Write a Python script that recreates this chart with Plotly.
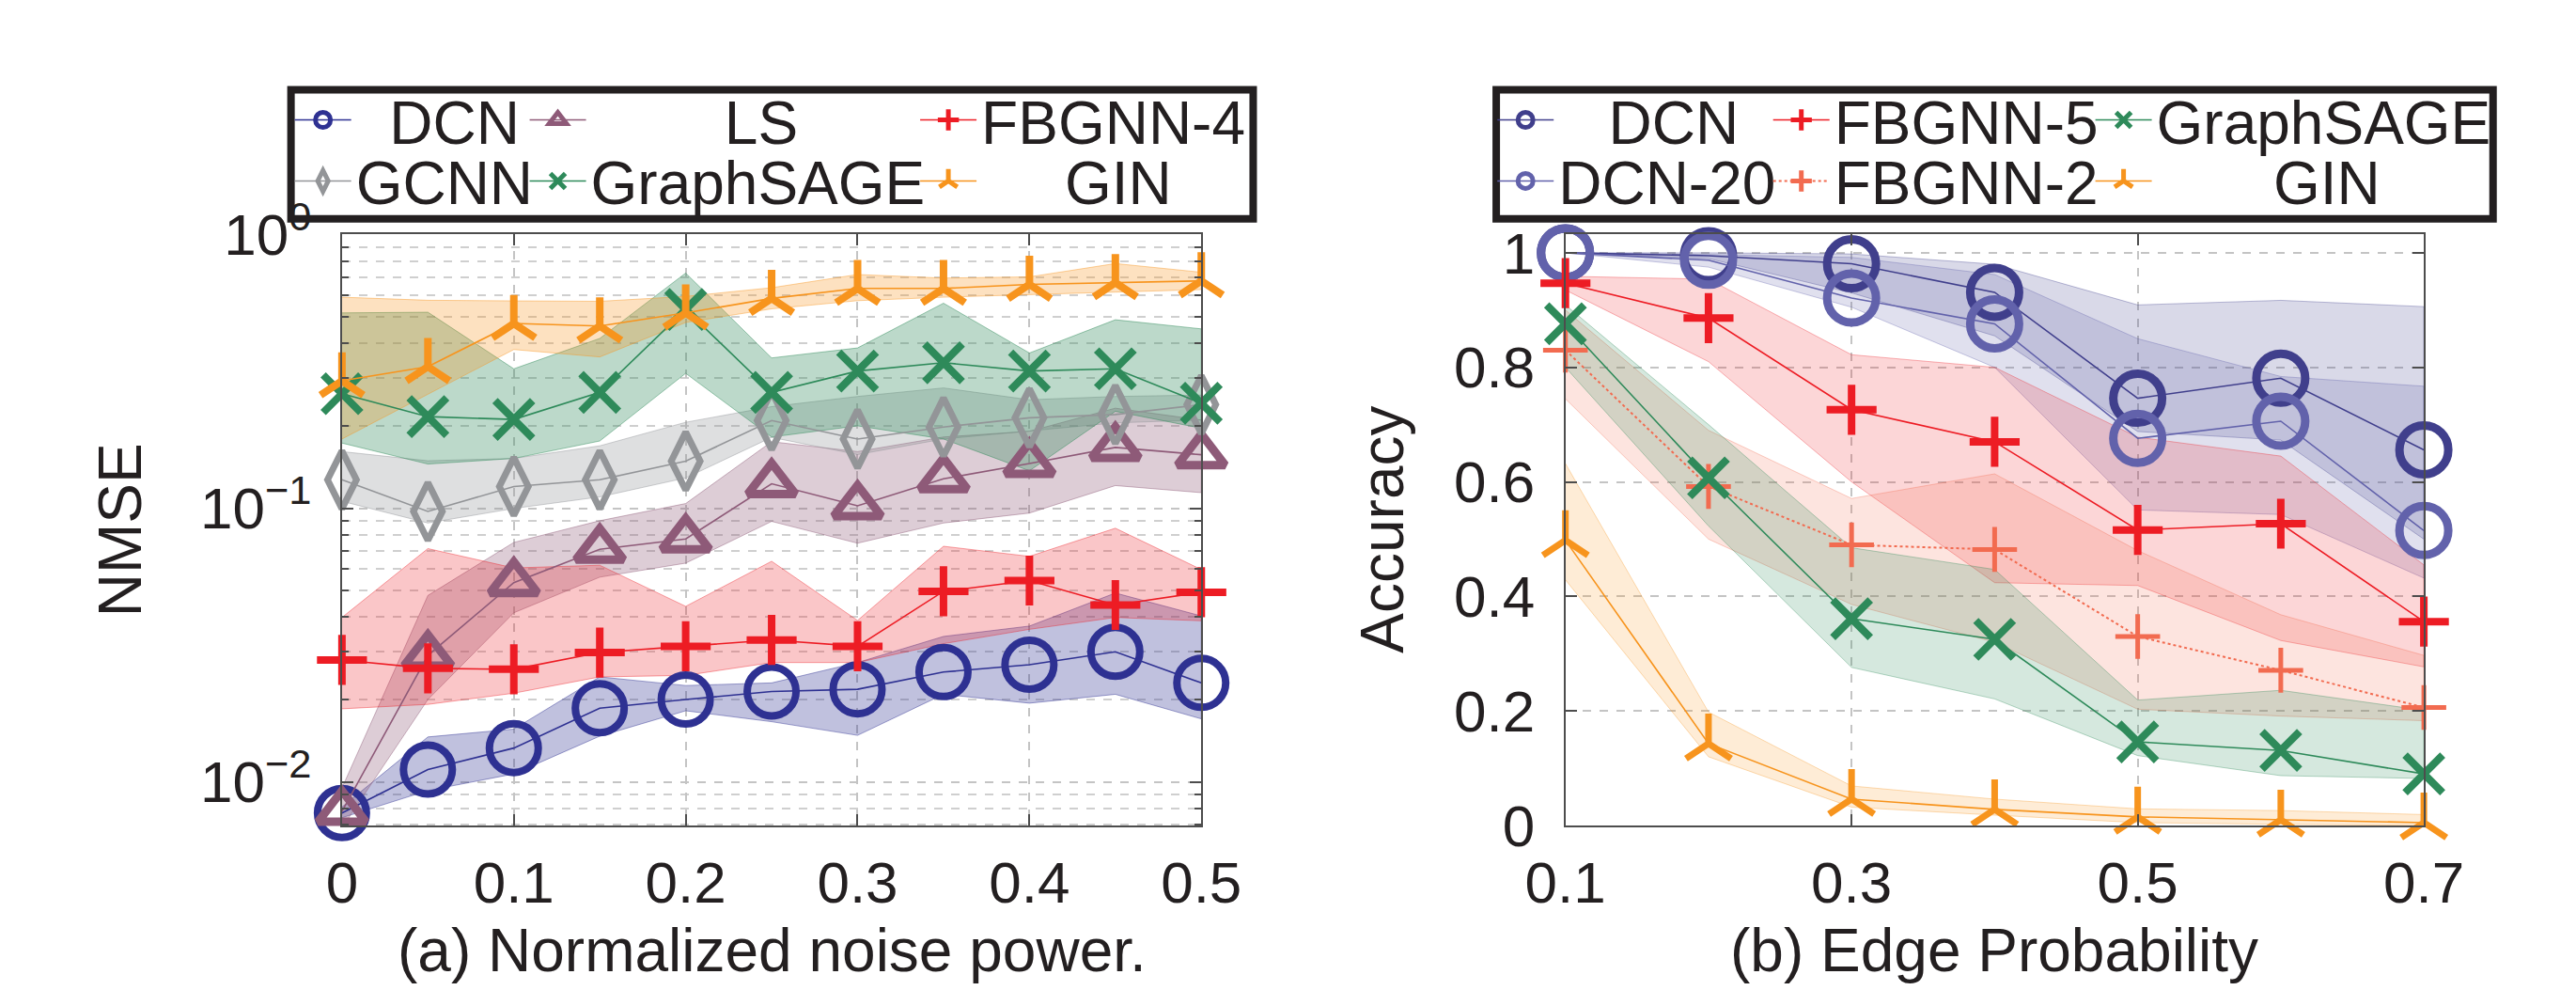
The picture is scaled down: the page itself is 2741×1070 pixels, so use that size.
import plotly.graph_objects as go

W, H = 2741, 1070

# ---------------- Data: panel (a) NMSE vs normalized noise power ----------------
noise_power = [0, 0.05, 0.1, 0.15, 0.2, 0.25, 0.3, 0.35, 0.4, 0.45, 0.5]

a_dcn = [0.0077, 0.0111, 0.0133, 0.0186, 0.0200, 0.0214, 0.0218, 0.0252, 0.0268, 0.0299, 0.0230]
a_dcn_hi = [0.0081, 0.0146, 0.0156, 0.0242, 0.0225, 0.0230, 0.0273, 0.0340, 0.0371, 0.0490, 0.0404]
a_dcn_lo = [0.0074, 0.0093, 0.0107, 0.0147, 0.0182, 0.0166, 0.0148, 0.0209, 0.0194, 0.0209, 0.0170]

a_ls = [0.0078, 0.029, 0.0535, 0.0708, 0.0772, 0.1228, 0.102, 0.128, 0.1457, 0.1667, 0.1568]
a_ls_hi = [0.0095, 0.048, 0.075, 0.090, 0.104, 0.175, 0.161, 0.182, 0.191, 0.232, 0.210]
a_ls_lo = [0.0068, 0.020, 0.0415, 0.056, 0.063, 0.0895, 0.0745, 0.0883, 0.096, 0.121, 0.114]

a_fb4 = [0.0279, 0.0260, 0.0258, 0.0297, 0.0313, 0.0330, 0.0313, 0.0497, 0.0544, 0.0443, 0.0493]
a_fb4_hi = [0.0399, 0.0712, 0.0605, 0.0619, 0.0438, 0.0640, 0.0389, 0.0726, 0.0667, 0.0845, 0.0597]
a_fb4_lo = [0.0185, 0.0192, 0.0211, 0.0242, 0.0245, 0.0273, 0.0273, 0.0320, 0.0361, 0.0399, 0.0388]

a_gcnn = [0.127, 0.0973, 0.120, 0.127, 0.1486, 0.209, 0.179, 0.198, 0.214, 0.220, 0.239]
a_gcnn_hi = [0.161, 0.149, 0.152, 0.169, 0.206, 0.235, 0.256, 0.275, 0.249, 0.256, 0.259]
a_gcnn_lo = [0.106, 0.0883, 0.0998, 0.110, 0.129, 0.1815, 0.157, 0.179, 0.191, 0.205, 0.210]

a_sage = [0.262, 0.216, 0.211, 0.265, 0.532, 0.265, 0.317, 0.340, 0.317, 0.323, 0.242]
a_sage_hi = [0.517, 0.520, 0.323, 0.417, 0.723, 0.354, 0.385, 0.561, 0.369, 0.488, 0.452]
a_sage_lo = [0.173, 0.145, 0.152, 0.176, 0.311, 0.182, 0.200, 0.179, 0.137, 0.226, 0.196]

a_gin = [0.292, 0.329, 0.473, 0.463, 0.517, 0.584, 0.635, 0.635, 0.657, 0.667, 0.677]
a_gin_hi = [0.590, 0.575, 0.572, 0.570, 0.594, 0.639, 0.714, 0.693, 0.700, 0.783, 0.728]
a_gin_lo = [0.179, 0.261, 0.380, 0.357, 0.477, 0.535, 0.573, 0.590, 0.604, 0.616, 0.629]

a_yticks = [0.01, 0.1, 1]
a_yticktext = ["10<sup>\u22122</sup>", "10<sup>\u22121</sup>", "10<sup>0</sup>"]

# ---------------- Data: panel (b) Accuracy vs edge probability ----------------
edge_prob = [0.1, 0.2, 0.3, 0.4, 0.5, 0.6, 0.7]

b_dcn = [1.0, 0.995, 0.981, 0.931, 0.746, 0.781, 0.656]
b_dcn_hi = [1.0, 1.0, 0.998, 0.980, 0.909, 0.917, 0.906]
b_dcn_lo = [1.0, 0.99, 0.93, 0.855, 0.688, 0.673, 0.50]

b_dcn20 = [1.0, 0.987, 0.921, 0.876, 0.676, 0.706, 0.515]
b_dcn20_hi = [1.0, 0.997, 0.992, 0.962, 0.850, 0.784, 0.767]
b_dcn20_lo = [1.0, 0.975, 0.905, 0.80, 0.551, 0.543, 0.432]

b_fb5 = [0.947, 0.886, 0.726, 0.670, 0.516, 0.527, 0.356]
b_fb5_hi = [0.959, 0.954, 0.822, 0.800, 0.678, 0.645, 0.455]
b_fb5_lo = [0.935, 0.81, 0.60, 0.424, 0.419, 0.323, 0.277]

b_fb2 = [0.830, 0.592, 0.490, 0.482, 0.330, 0.271, 0.206]
b_fb2_hi = [0.90, 0.69, 0.571, 0.614, 0.480, 0.368, 0.297]
b_fb2_lo = [0.745, 0.50, 0.386, 0.32, 0.203, 0.191, 0.183]

b_sage = [0.876, 0.607, 0.361, 0.325, 0.146, 0.131, 0.090]
b_sage_hi = [0.909, 0.70, 0.485, 0.447, 0.219, 0.236, 0.201]
b_sage_lo = [0.80, 0.523, 0.276, 0.221, 0.122, 0.087, 0.082]

b_gin = [0.498, 0.143, 0.046, 0.028, 0.015, 0.010, 0.005]
b_gin_hi = [0.632, 0.198, 0.069, 0.046, 0.029, 0.026, 0.019]
b_gin_lo = [0.429, 0.12, 0.032, 0.018, 0.005, 0.002, 0.0]

captions = ["(a) Normalized noise power.", "(b) Edge Probability"]
ylabels = ["NMSE", "Accuracy"]

# ---------------- Styles ----------------
FONT = "Liberation Sans, Arial, Helvetica, sans-serif"
TXT = "#231f20"


def rgba(hexc, a):
    h = hexc.lstrip("#")
    r, g, b = int(h[0:2], 16), int(h[2:4], 16), int(h[4:6], 16)
    return f"rgba({r},{g},{b},{a})"


# name, mean, hi, lo, color, symbol, size, marker line width, line dash, band alpha
series_a = [
    ("DCN", a_dcn, a_dcn_hi, a_dcn_lo, "#2e3192", "circle-open", 52, 8, "solid", 0.30),
    ("LS", a_ls, a_ls_hi, a_ls_lo, "#8e5a78", "triangle-up-open", 44, 9, "solid", 0.30),
    ("FBGNN-4", a_fb4, a_fb4_hi, a_fb4_lo, "#ed1c24", "cross-thin-open", 38, 8, "solid", 0.25),
    ("GCNN", a_gcnn, a_gcnn_hi, a_gcnn_lo, "#939598", "diamond-tall-open", 44, 7, "solid", 0.30),
    ("GraphSAGE", a_sage, a_sage_hi, a_sage_lo, "#2e8a5a", "x-thin-open", 40, 8, "solid", 0.32),
    ("GIN", a_gin, a_gin_hi, a_gin_lo, "#f7941d", "y-up-open", 38, 8, "solid", 0.28),
]
series_b = [
    ("DCN", b_dcn, b_dcn_hi, b_dcn_lo, "#403f8c", "circle-open", 52, 9, "solid", 0.20),
    ("DCN-20", b_dcn20, b_dcn20_hi, b_dcn20_lo, "#6262ab", "circle-open", 52, 9, "solid", 0.20),
    ("FBGNN-5", b_fb5, b_fb5_hi, b_fb5_lo, "#ed1c24", "cross-thin-open", 38, 8, "solid", 0.18),
    ("FBGNN-2", b_fb2, b_fb2_hi, b_fb2_lo, "#f26b50", "cross-thin-open", 34, 5, "dot", 0.18),
    ("GraphSAGE", b_sage, b_sage_hi, b_sage_lo, "#2e8a5a", "x-thin-open", 40, 8, "solid", 0.20),
    ("GIN", b_gin, b_gin_hi, b_gin_lo, "#f7941d", "y-up-open", 40, 7, "solid", 0.18),
]

# legend slot layout: (marker centre px, row, left padding in nbsp)
legend_a = {"DCN": (301, 0, 2), "LS": (559, 0, 8), "FBGNN-4": (988, 0, 0),
            "GCNN": (301, 1, 0), "GraphSAGE": (559, 1, 0), "GIN": (988, 1, 5)}
legend_b = {"DCN": (1622, 0, 3), "FBGNN-5": (1925, 0, 0), "GraphSAGE": (2279, 0, 0),
            "DCN-20": (1622, 1, 0), "FBGNN-2": (1925, 1, 0), "GIN": (2279, 1, 7)}
ROW_Y = [83, 153]
legend_boxes = [(267, 48, 1324, 196), (1591, 48, 2686, 196)]

fig = go.Figure()

legend_layouts = {}
legend_count = [0]


def add_panel(series, xs, xa, ya, slots):
    # bands first
    for name, m, hi, lo, col, sym, sz, mlw, dash, alpha in series:
        fig.add_trace(go.Scatter(
            x=list(xs) + list(xs)[::-1], y=list(hi) + list(lo)[::-1],
            fill="toself", fillcolor=rgba(col, alpha),
            line=dict(color=rgba(col, min(alpha + 0.15, 1)), width=1),
            mode="lines", showlegend=False, hoverinfo="skip",
            xaxis=xa, yaxis=ya))
    # lines + markers
    for name, m, hi, lo, col, sym, sz, mlw, dash, alpha in series:
        legend_count[0] += 1
        k = legend_count[0]
        lkey = "legend" if k == 1 else f"legend{k}"
        mc, row, pad = slots[name]
        legend_layouts[lkey] = dict(
            x=(mc - 35) / W, xanchor="left", y=1 - ROW_Y[row] / H, yanchor="middle",
            bgcolor="rgba(0,0,0,0)", borderwidth=0, itemwidth=60,
            font=dict(family=FONT, size=64, color=TXT), tracegroupgap=0)
        fig.add_trace(go.Scatter(
            x=xs, y=m, mode="lines+markers", name="\u00a0" * pad + name,
            line=dict(color=col, width=2 if dash == "dot" else 1.6, dash=dash),
            marker=dict(symbol=sym, size=sz, color=col, line=dict(color=col, width=mlw)),
            cliponaxis=False, legend=lkey, xaxis=xa, yaxis=ya))


add_panel(series_a, noise_power, "x", "y", legend_a)
add_panel(series_b, edge_prob, "x2", "y2", legend_b)

axis_common = dict(
    showline=True, linecolor="#4d4d4d", linewidth=2, mirror="ticks",
    ticks="inside", ticklen=12, tickwidth=2, tickcolor="#4d4d4d",
    showgrid=True, gridcolor="#c4c4c4", gridwidth=2, griddash="dash",
    zeroline=False, tickfont=dict(family=FONT, size=62, color=TXT),
)

minor_vals = [k * 10.0 ** e for e in (-3, -2, -1) for k in range(2, 10)]

fig.update_layout(
    width=W, height=H, margin=dict(l=0, r=0, t=0, b=0),
    paper_bgcolor="white", plot_bgcolor="white",
    font=dict(family=FONT, color=TXT, size=62),
    xaxis=dict(domain=[323 / W, 1267 / W], range=[0, 0.5], tick0=0, dtick=0.1,
               ticklabelstandoff=6, **axis_common),
    yaxis=dict(domain=[1 - 892 / H, 1 - 214 / H], type="log", range=[-2.159, 0],
               tickmode="array", tickvals=a_yticks, ticktext=a_yticktext,
               ticklabelstandoff=18,
               minor=dict(tickmode="array", tickvals=minor_vals, ticks="inside", ticklen=7,
                          tickcolor="#4d4d4d", showgrid=True, gridcolor="#cfcfcf",
                          griddash="dash", gridwidth=2),
               **axis_common),
    xaxis2=dict(domain=[1667 / W, 2610 / W], range=[0.1, 0.7], tick0=0.1, dtick=0.2,
                ticklabelstandoff=6, anchor="y2", **axis_common),
    yaxis2=dict(domain=[1 - 892 / H, 1 - 214 / H], range=[0, 1.032], tick0=0, dtick=0.2,
                ticklabelstandoff=18, anchor="x2", **axis_common),
    **legend_layouts,
)

# legend frames
for (x0, y0, x1, y1) in legend_boxes:
    fig.add_shape(type="rect", xref="paper", yref="paper",
                  x0=x0 / W, x1=x1 / W, y0=1 - y0 / H, y1=1 - y1 / H,
                  line=dict(color=TXT, width=8), fillcolor="rgba(0,0,0,0)", layer="above")

# captions and y labels
centers = [(323 + 1267) / 2, (1667 + 2610) / 2]
ylab_x = [79, 1466]
for i in range(2):
    fig.add_annotation(text=captions[i], xref="paper", yref="paper",
                       x=centers[i] / W, y=1 - 1036 / H, showarrow=False,
                       xanchor="center", yanchor="middle",
                       font=dict(family=FONT, size=64, color=TXT))
    fig.add_annotation(text=ylabels[i], xref="paper", yref="paper",
                       x=ylab_x[i] / W, y=1 - 553 / H, showarrow=False, textangle=-90,
                       xanchor="center", yanchor="middle",
                       font=dict(family=FONT, size=64, color=TXT))

fig.write_html("out.html")
